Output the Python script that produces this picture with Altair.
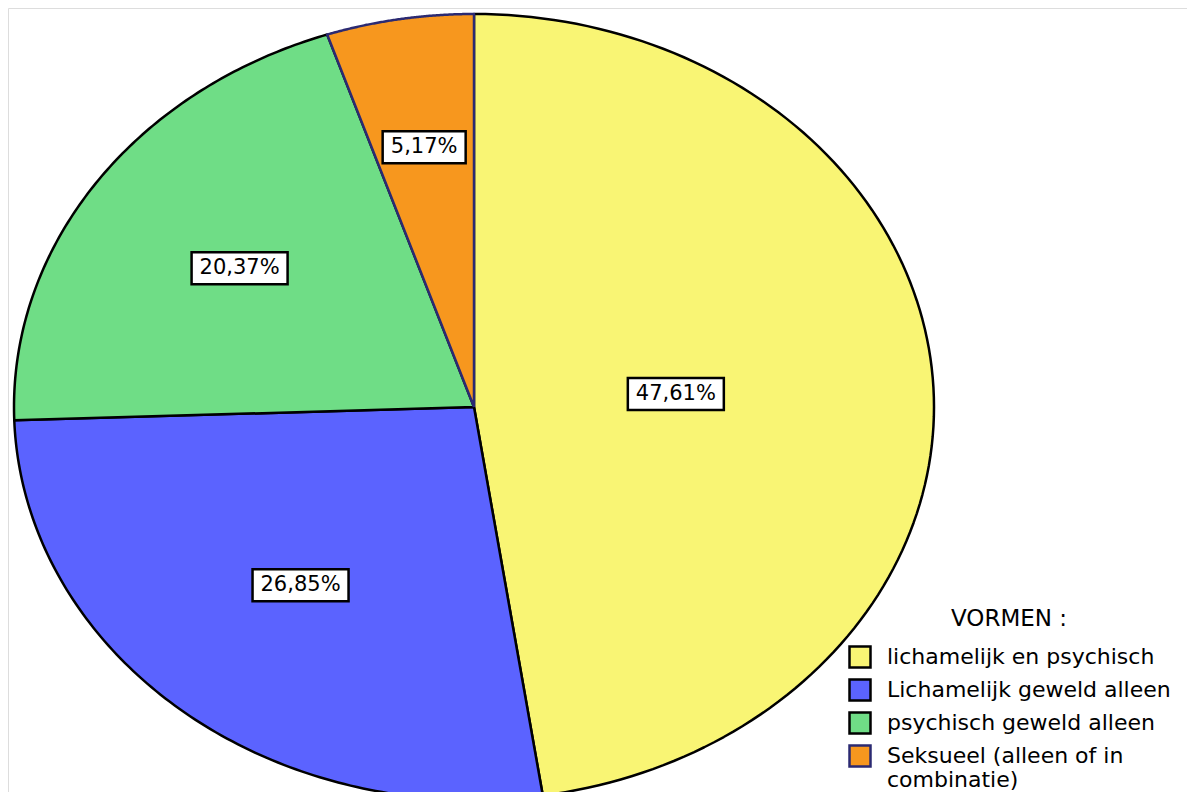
import altair as alt
import pandas as pd

categories = [
    "lichamelijk en psychisch",
    "Lichamelijk geweld alleen",
    "psychisch geweld alleen",
    "Seksueel (alleen of in combinatie)",
]
percentages = [47.61, 26.85, 20.37, 5.17]
label_texts = ["47,61%", "26,85%", "20,37%", "5,17%"]

fill_colors = ["#F9F574", "#5B63FF", "#6FDD86", "#F7971E"]
stroke_colors = ["#000000", "#000000", "#000000", "#2B2A72"]
label_radius = [0.44, 0.59, 0.62, 0.67]

df = pd.DataFrame({
    "cat": categories,
    "pct": percentages,
    "label": label_texts,
    "idx": list(range(len(categories))),
    "lr": label_radius,
})

N = 120
FONT = "DejaVu Sans"

xs = alt.Scale(domain=[-1, 1], range=[6, 926])
ys = alt.Scale(domain=[-1, 1], range=[792, 6])

fill_scale = alt.Scale(domain=categories, range=fill_colors)
stroke_scale = alt.Scale(domain=categories, range=stroke_colors)

base = alt.Chart(df).transform_window(
    cum="sum(pct)", sort=[alt.SortField("idx")]
).transform_calculate(
    start="(datum.cum - datum.pct) / 100 * 2 * PI",
    end="datum.cum / 100 * 2 * PI",
)

legend = alt.Legend(
    title="VORMEN :",
    orient="none",
    legendX=840,
    legendY=600,
    titleFontSize=23,
    titleFontWeight="normal",
    titleColor="black",
    titleFont=FONT,
    titleAnchor="middle",
    titlePadding=14,
    labelFontSize=22,
    labelFont=FONT,
    labelColor="black",
    labelLimit=400,
    labelOffset=15,
    symbolType="square",
    symbolSize=441,
    symbolStrokeWidth=2.5,
    rowPadding=1,
    labelExpr="datum.label == 'Seksueel (alleen of in combinatie)' ? ['Seksueel (alleen of in', 'combinatie)'] : datum.label",
)

slices = base.transform_calculate(
    steps=f"sequence(-1, {N + 2})"
).transform_flatten(
    ["steps"], as_=["step"]
).transform_calculate(
    t=f"datum.start + (datum.end - datum.start) * clamp(datum.step, 0, {N}) / {N}",
).transform_calculate(
    px=f"(datum.step < 0 || datum.step > {N}) ? 0 : sin(datum.t)",
    py=f"(datum.step < 0 || datum.step > {N}) ? 0 : cos(datum.t)",
).mark_line(strokeWidth=2.5, strokeJoin="round", interpolate="linear").encode(
    x=alt.X("px:Q", scale=xs, axis=None),
    y=alt.Y("py:Q", scale=ys, axis=None),
    order=alt.Order("step:Q"),
    detail="idx:O",
    fill=alt.Fill("cat:N", scale=fill_scale, legend=legend, sort=categories),
    stroke=alt.Stroke("cat:N", scale=stroke_scale, legend=legend, sort=categories),
)

labels_base = base.transform_calculate(
    mid="(datum.start + datum.end) / 2",
).transform_calculate(
    lx="datum.lr * sin(datum.mid)",
    ly="datum.lr * cos(datum.mid)",
    n="length(datum.label)",
)

enc = dict(
    x=alt.X("lx:Q", scale=xs, axis=None),
    y=alt.Y("ly:Q", scale=ys, axis=None),
)

box6 = labels_base.transform_filter("datum.n >= 6").mark_rect(
    width=96, height=32, fill="white", stroke="black", strokeWidth=2.5
).encode(**enc)
box5 = labels_base.transform_filter("datum.n < 6").mark_rect(
    width=83, height=32, fill="white", stroke="black", strokeWidth=2.5
).encode(**enc)

texts = labels_base.mark_text(
    font=FONT, fontSize=21, color="black", align="center", baseline="middle"
).encode(text="label:N", **enc)

chart = alt.layer(slices, box6, box5, texts).properties(
    width=1179,
    height=784,
    autosize=alt.AutoSizeParams(type="none"),
    padding=0,
).configure_view(stroke="transparent", strokeWidth=0).configure(font=FONT, background="white")

chart.save("out.html", embed_options={"renderer": "svg", "actions": False})
